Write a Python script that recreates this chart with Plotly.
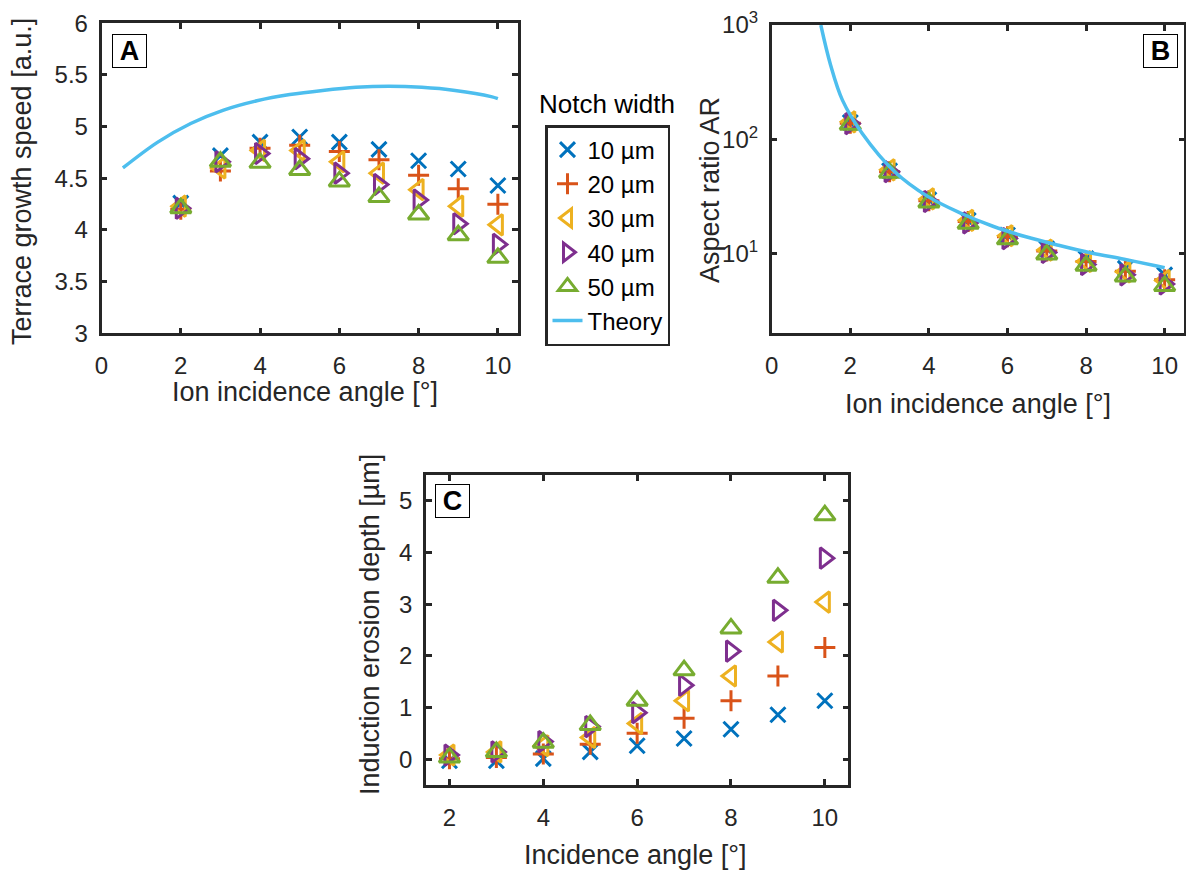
import plotly.graph_objects as go

# ---------------- data ----------------
angles = [2, 3, 4, 5, 6, 7, 8, 9, 10]
series_names = ["10 µm", "20 µm", "30 µm", "40 µm", "50 µm"]

# Panel A: terrace growth speed [a.u.]
speed_10 = [4.26, 4.72, 4.85, 4.90, 4.85, 4.78, 4.67, 4.59, 4.43]
speed_20 = [4.20, 4.57, 4.79, 4.82, 4.76, 4.68, 4.53, 4.40, 4.25]
speed_30 = [4.23, 4.60, 4.77, 4.77, 4.66, 4.55, 4.39, 4.23, 4.05]
speed_40 = [4.21, 4.66, 4.74, 4.69, 4.55, 4.44, 4.29, 4.06, 3.86]
speed_50 = [4.21, 4.66, 4.65, 4.58, 4.47, 4.32, 4.15, 3.95, 3.73]
theory_a_x = [0.54, 1.42, 2.25, 3.08, 3.92, 4.75, 5.58, 6.42, 7.25, 8.08, 8.92, 9.83, 10.0]
theory_a_y = [4.60, 4.85, 5.03, 5.16, 5.25, 5.31, 5.35, 5.38, 5.39, 5.38, 5.35, 5.29, 5.27]

# Panel B: aspect ratio AR
ar_10 = [140, 53, 29.5, 19.5, 14.5, 11.0, 9.0, 7.4, 6.5]
ar_20 = [138, 52, 29.0, 19.0, 14.0, 10.5, 8.5, 7.0, 5.9]
ar_30 = [142, 54, 30.0, 19.5, 14.3, 10.7, 8.5, 6.9, 5.8]
ar_40 = [137, 52, 28.5, 18.5, 13.5, 10.2, 8.0, 6.5, 5.4]
ar_50 = [134, 51, 28.0, 18.2, 13.3, 9.8, 7.8, 6.3, 5.2]
theory_b_x = [1.25, 1.5, 1.8, 2.3, 3.13, 3.97, 4.8, 5.63, 6.47, 7.3, 8.13, 8.97, 9.8, 10.0]
theory_b_y = [1000, 445, 220, 113, 52, 31.6, 22.6, 17.3, 14.0, 11.8, 10.1, 8.9, 7.76, 7.5]

# Panel C: induction erosion depth [µm]
depth_10 = [-0.03, -0.03, 0.01, 0.14, 0.26, 0.40, 0.58, 0.86, 1.13]
depth_20 = [0.01, 0.03, 0.10, 0.29, 0.50, 0.79, 1.13, 1.61, 2.16]
depth_30 = [0.08, 0.14, 0.26, 0.42, 0.69, 1.13, 1.61, 2.27, 3.04]
depth_40 = [0.08, 0.14, 0.34, 0.63, 0.90, 1.43, 2.09, 2.88, 3.89]
depth_50 = [0.03, 0.14, 0.32, 0.66, 1.13, 1.72, 2.53, 3.51, 4.72]

# ---------------- styles ----------------
colors = ["#0072BD", "#D95319", "#EDB120", "#7E2F8E", "#77AC30"]
theory_color = "#4DBEEE"
symbols = ["x-thin-open", "cross-thin-open", "triangle-left-open",
           "triangle-right-open", "triangle-up-open"]
sizes = [15, 15, 18, 18, 18]
FONT = "Liberation Sans, Arial, sans-serif"
AX = "#262626"
W, H, OFF = 1194, 878, 8  # page body margin offset


def px(x):
    return (x - OFF) / W


def py(y):
    return 1 - (y - OFF) / H


speed = [speed_10, speed_20, speed_30, speed_40, speed_50]
ar = [ar_10, ar_20, ar_30, ar_40, ar_50]
depth = [depth_10, depth_20, depth_30, depth_40, depth_50]

fig = go.Figure()


def add_markers(ys, xa, ya, legend):
    for i, y in enumerate(ys):
        fig.add_trace(go.Scatter(
            x=angles, y=y, mode="markers", name=series_names[i],
            xaxis=xa, yaxis=ya, showlegend=legend, legendgroup=f"g{i}",
            marker=dict(symbol=symbols[i], size=sizes[i], color=colors[i],
                        line=dict(width=3, color=colors[i])),
        ))


add_markers(speed, "x", "y", True)
fig.add_trace(go.Scatter(x=theory_a_x, y=theory_a_y, mode="lines", name="Theory",
                         xaxis="x", yaxis="y", legendgroup="g5",
                         line=dict(color=theory_color, width=3.5, shape="spline")))
add_markers(ar, "x2", "y2", False)
fig.add_trace(go.Scatter(x=theory_b_x, y=theory_b_y, mode="lines", name="Theory",
                         xaxis="x2", yaxis="y2", showlegend=False,
                         line=dict(color=theory_color, width=3.5, shape="spline")))
add_markers(depth, "x3", "y3", False)

common = dict(showline=True, linecolor=AX, linewidth=2.5, mirror="ticks",
              ticks="inside", ticklen=6, tickwidth=2.5, tickcolor=AX,
              showgrid=False, zeroline=False, automargin=False,
              tickfont=dict(family=FONT, size=24, color=AX))
xcommon = dict(ticklabelstandoff=9, **common)
ycommon = dict(ticklabelstandoff=6, **common)

fig.update_layout(
    width=W, height=H,
    paper_bgcolor="white", plot_bgcolor="white",
    margin=dict(l=0, r=0, t=0, b=0),
    font=dict(family=FONT, color=AX),
    xaxis=dict(domain=[px(101.5), px(517.7)], range=[0, 10.5], tickvals=[0, 2, 4, 6, 8, 10],
               anchor="y", **xcommon),
    yaxis=dict(domain=[py(333.3), py(23.3)], range=[3, 6], tickvals=[3, 3.5, 4, 4.5, 5, 5.5, 6],
               anchor="x", **ycommon),
    xaxis2=dict(domain=[px(771.7), px(1184.3)], range=[0, 10.5], tickvals=[0, 2, 4, 6, 8, 10],
                anchor="y2", **xcommon),
    yaxis2=dict(domain=[py(333.3), py(25)], type="log", range=[0.301, 3],
                tickvals=[10, 100, 1000],
                ticktext=["10<sup>1</sup>", "10<sup>2</sup>", "10<sup>3</sup>"],
                anchor="x2", **ycommon),
    xaxis3=dict(domain=[px(426), px(848.3)], range=[1.5, 10.5], tickvals=[2, 4, 6, 8, 10],
                anchor="y3", **xcommon),
    yaxis3=dict(domain=[py(785), py(475)], range=[-0.5, 5.5], tickvals=[0, 1, 2, 3, 4, 5],
                anchor="x3", **ycommon),
    legend=dict(x=px(545), y=py(125), xanchor="left", yanchor="top",
                bordercolor=AX, borderwidth=2.5, bgcolor="white",
                font=dict(family=FONT, size=24, color="black"),
                tracegroupgap=0, itemwidth=30),
)

TF = dict(family=FONT, size=27, color=AX)
annotations = [
    dict(text="Notch width", x=px(607), y=py(121), xref="paper", yref="paper",
         xanchor="center", yanchor="bottom", showarrow=False,
         font=dict(family=FONT, size=26, color="black")),
    # axis titles
    dict(text="Ion incidence angle [°]", x=px(305), y=py(392), textangle=0),
    dict(text="Ion incidence angle [°]", x=px(978), y=py(404), textangle=0),
    dict(text="Incidence angle [°]", x=px(635), y=py(855), textangle=0),
    dict(text="Terrace growth speed [a.u.]", x=px(22), y=py(182), textangle=-90),
    dict(text="Aspect ratio AR", x=px(710), y=py(190), textangle=-90),
    dict(text="Induction erosion depth [µm]", x=px(370), y=py(625), textangle=-90),
]
for a in annotations[1:]:
    a.update(xref="paper", yref="paper", showarrow=False, xanchor="center",
             yanchor="middle", font=TF)
for lab, cx, cy in [("A", 129.5, 51), ("B", 1160, 51), ("C", 452.5, 501)]:
    annotations.append(dict(
        text=f"<b>{lab}</b>", x=px(cx), y=py(cy), xref="paper", yref="paper",
        xanchor="center", yanchor="middle", showarrow=False,
        width=31, height=30, bordercolor="black", borderwidth=1, borderpad=1,
        bgcolor="white", font=dict(family=FONT, size=27, color="black")))
fig.update_layout(annotations=annotations)

fig.write_html("out.html")
